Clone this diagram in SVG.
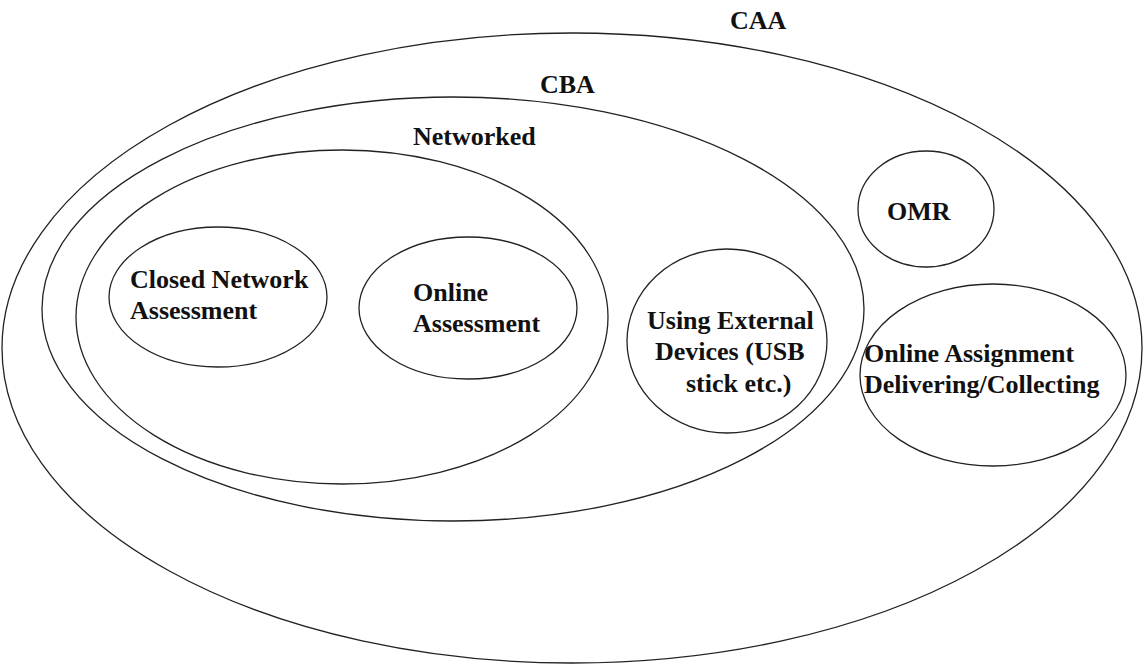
<svg xmlns="http://www.w3.org/2000/svg" width="1144" height="668" viewBox="0 0 1144 668">
<style>
.s{fill:none;stroke:#222;stroke-width:1.3}
.t{font-family:"Liberation Serif","Times New Roman",serif;font-weight:bold;font-size:26px;fill:#111}
</style>
<rect width="1144" height="668" fill="#fff"/>
<g id="caa"><ellipse class="s" cx="572" cy="348" rx="570" ry="315"/><text class="t" x="730" y="29">CAA</text></g>
<g id="cba"><ellipse class="s" cx="453" cy="309" rx="411" ry="212"/><text class="t" x="540" y="93">CBA</text></g>
<g id="networked"><ellipse class="s" cx="342" cy="317" rx="266" ry="167"/><text class="t" x="413" y="145">Networked</text></g>
<g id="closed"><ellipse class="s" cx="218" cy="297" rx="109" ry="70"/><text class="t" x="130" y="288">Closed Network</text><text class="t" x="130" y="319">Assessment</text></g>
<g id="online"><ellipse class="s" cx="468" cy="308" rx="109" ry="71"/><text class="t" x="413" y="301">Online</text><text class="t" x="413" y="332">Assessment</text></g>
<g id="external"><ellipse class="s" cx="727" cy="341" rx="100" ry="92"/><text class="t" x="647" y="329">Using External</text><text class="t" x="655" y="360">Devices (USB</text><text class="t" x="686" y="392">stick etc.)</text></g>
<g id="omr"><ellipse class="s" cx="926" cy="209" rx="68" ry="58"/><text class="t" x="887" y="220">OMR</text></g>
<g id="assignment"><ellipse class="s" cx="993" cy="375" rx="133" ry="91"/><text class="t" x="864" y="362">Online Assignment</text><text class="t" x="864" y="393">Delivering/Collecting</text></g>
<g id="connectors"/>
</svg>
